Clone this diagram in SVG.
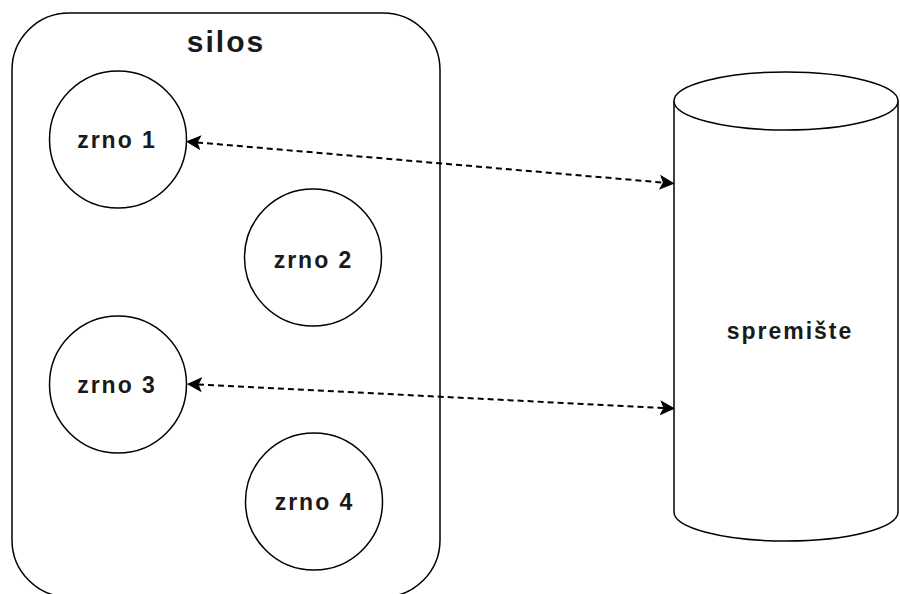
<svg xmlns="http://www.w3.org/2000/svg" width="900" height="594" viewBox="0 0 900 594">
<style>
.shape{fill:#fff;stroke:#000;stroke-width:1.5}
.lbl{font-family:"Liberation Sans",Arial,sans-serif;font-weight:bold;font-size:23px;letter-spacing:2px;fill:#1a1a1a;text-anchor:middle}
.title{font-size:30px}
.edge{fill:none;stroke:#000;stroke-width:2;stroke-dasharray:6 4}
</style>
<defs>
<marker id="arr" markerUnits="userSpaceOnUse" viewBox="-4 -8 15 16" refX="0" refY="0" markerWidth="15" markerHeight="16" orient="auto-start-reverse">
<path d="M10,0 L-3,-6.5 L0,0 L-3,6.5 Z" fill="#000" stroke="#000" stroke-width="1"/>
</marker>
</defs>
<rect width="900" height="594" fill="#fff"/>
<g id="silos">
<rect class="shape" x="12" y="13" width="428" height="584" rx="57" ry="57"/>
<text class="lbl title" x="226" y="52">silos</text>
</g>
<g id="zrno1">
<circle class="shape" cx="118" cy="139.5" r="68.5"/>
<text class="lbl" x="117" y="147.5">zrno 1</text>
</g>
<g id="zrno2">
<circle class="shape" cx="313" cy="257.5" r="68.5"/>
<text class="lbl" x="313.5" y="267.5">zrno 2</text>
</g>
<g id="zrno3">
<circle class="shape" cx="118" cy="384.5" r="68.5"/>
<text class="lbl" x="117" y="392.5">zrno 3</text>
</g>
<g id="zrno4">
<circle class="shape" cx="314" cy="501.5" r="68.5"/>
<text class="lbl" x="314.5" y="509.5">zrno 4</text>
</g>
<g id="spremiste">
<path class="shape" d="M674,101 A112,29 0 0 1 898,101 L898,512 A112,29 0 0 1 674,512 Z"/>
<path class="shape" fill="none" d="M674,101 A112,29 0 0 0 898,101"/>
<text class="lbl" x="790" y="338.5">spremište</text>
</g>
<g id="connectors">
<line class="edge" x1="197" y1="142.4" x2="663.5" y2="182.6" marker-start="url(#arr)" marker-end="url(#arr)"/>
<line class="edge" x1="198" y1="384.5" x2="664" y2="408" marker-start="url(#arr)" marker-end="url(#arr)"/>
</g>
</svg>
